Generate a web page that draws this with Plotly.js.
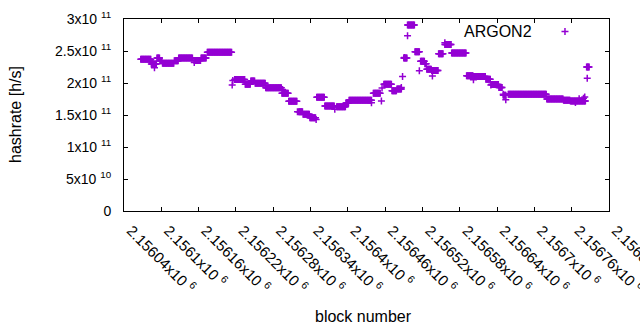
<!DOCTYPE html>
<html><head><meta charset="utf-8">
<script src="https://cdn.plot.ly/plotly-3.0.1.min.js"></script>
<style>html,body{margin:0;padding:0;background:#fff}#chart{width:640px;height:330px}</style>
</head><body><div id="chart"></div>
<script>
// Runs of consecutive blocks sharing the same hashrate estimate (values in 1e9 h/s)
const runFirstBlock = [2156067,2156084,2156093,2156098,2156102,2156121,2156128,2156153,2156164,2156174,2156218,2156235,2156244,2156251,2156268,2156294,2156305,2156321,2156328,2156339,2156350,2156364,2156382,2156397,2156402,2156441,2156458,2156471,2156479,2156490,2156496,2156508,2156517,2156524,2156527,2156535,2156546,2156556,2156567,2156591,2156602,2156622,2156631,2156643,2156650,2156658,2156720,2156747,2156758,2156784];
const runLastBlock  = [2156083,2156092,2156097,2156101,2156120,2156127,2156150,2156163,2156172,2156213,2156234,2156243,2156250,2156267,2156293,2156304,2156318,2156327,2156338,2156348,2156362,2156378,2156396,2156401,2156438,2156452,2156470,2156478,2156486,2156495,2156507,2156515,2156523,2156526,2156534,2156545,2156553,2156566,2156590,2156601,2156621,2156629,2156642,2156648,2156654,2156719,2156746,2156757,2156782,2156788];
const runHashrateG  = [237,229.5,239,234.6,231,234.6,239,235,239,248,205.5,198,203,199.7,192.5,184,171.5,155,151,145.6,177.7,164,163,168.8,173,184,198,188,190.7,239,290.6,249,234,230,221.6,219.5,245.6,260,247,211.5,210,206,197.5,193,181,182.6,175,173,172,225];
// Isolated single-block points
const singleBlock = [2156082,2156089,2156153,2156214,2156215,2156295,2156319,2156349,2156363,2156379,2156438,2156454,2156455,2156486,2156488,2156491,2156496,2156515,2156536,2156556,2156602,2156630,2156650,2156654,2156766,2156772,2156779,2156781,2156785];
const singleHashrateG = [234.6,224,232,197,204,190,155,143,164,159,169,172,192,193,210,240,274,219,211,263,205,197,182.4,174,169.5,175.5,176,178,207.5];

const xTickBlocks = [2156040,2156100,2156160,2156220,2156280,2156340,2156400,2156460,2156520,2156580,2156640,2156700,2156760,2156820];
const xTickMantissa = ['2.15604','2.1561','2.15616','2.15622','2.15628','2.15634','2.1564','2.15646','2.15652','2.15658','2.15664','2.1567','2.15676','2.15682'];
const yTickValues = [0,5e10,1e11,1.5e11,2e11,2.5e11,3e11];
const yTickLabels = ['0','5x10 <sup>10</sup>','1x10 <sup>11</sup>','1.5x10 <sup>11</sup>','2x10 <sup>11</sup>','2.5x10 <sup>11</sup>','3x10 <sup>11</sup>'];

const blocks = [], rates = [];
for (let i = 0; i < runFirstBlock.length; i++) {
  for (let b = runFirstBlock[i]; b <= runLastBlock[i]; b++) { blocks.push(b); rates.push(runHashrateG[i] * 1e9); }
}
for (let i = 0; i < singleBlock.length; i++) { blocks.push(singleBlock[i]); rates.push(singleHashrateG[i] * 1e9); }

const purple = '#9400d3';
const fontFam = 'Liberation Sans, Arial, sans-serif';
const trace = {
  x: blocks, y: rates, type: 'scatter', mode: 'markers', name: ' ',
  marker: {symbol: 'cross-thin-open', size: 5, color: purple, line: {color: purple, width: 1.5}},
  showlegend: true, hoverinfo: 'skip'
};
const layout = {
  width: 640, height: 330,
  margin: {l: 124, r: 31, t: 19, b: 119, pad: 0},
  paper_bgcolor: '#fff', plot_bgcolor: '#fff',
  font: {family: fontFam, size: 16, color: '#000'},
  showlegend: true,
  legend: {x: 0.868, y: 0.935, xanchor: 'left', yanchor: 'middle', bgcolor: 'rgba(0,0,0,0)', borderwidth: 0, font: {size: 16}},
  xaxis: {
    range: [2156040, 2156820], tickvals: xTickBlocks,
    ticktext: xTickMantissa.map(m => m + 'x10 <sup>6</sup>'),
    tickangle: 45, ticks: 'inside', ticklen: 4, tickcolor: '#000',
    showline: true, linecolor: '#000', linewidth: 1, mirror: 'ticks',
    showgrid: false, zeroline: false, tickfont: {size: 15},
    ticklabelstandoff: 4, ticklabelshift: 7, ticklabeloverflow: 'allow'
  },
  yaxis: {
    range: [0, 3e11], tickvals: yTickValues, ticktext: yTickLabels,
    ticks: 'inside', ticklen: 4, tickcolor: '#000',
    showline: true, linecolor: '#000', linewidth: 1, mirror: 'ticks',
    showgrid: false, zeroline: false, tickfont: {size: 14}, ticklabelstandoff: 9
  },
  annotations: [
    {text: 'ARGON2', xref: 'paper', yref: 'paper', x: 0.8454, y: 0.935, xanchor: 'right', yanchor: 'middle', showarrow: false, font: {size: 16}},
    {text: 'hashrate [h/s]', xref: 'paper', yref: 'paper', x: -0.2247, y: 0.5, xanchor: 'center', yanchor: 'middle', textangle: -90, showarrow: false, font: {size: 16}},
    {text: 'block number', xref: 'paper', yref: 'paper', x: 0.4948, y: -0.552, xanchor: 'center', yanchor: 'middle', showarrow: false, font: {size: 16}}
  ]
};
Plotly.newPlot('chart', [trace], layout, {staticPlot: true, displayModeBar: false});
</script></body></html>
